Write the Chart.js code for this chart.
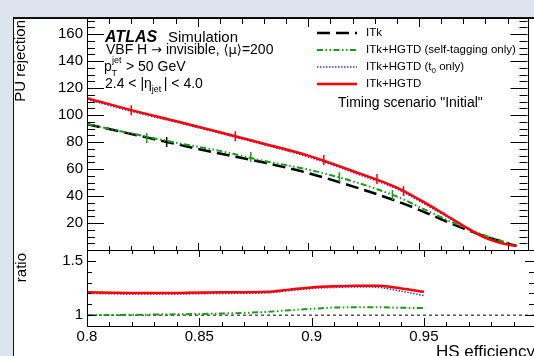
<!DOCTYPE html>
<html>
<head>
<meta charset="utf-8">
<script src="https://cdn.jsdelivr.net/npm/chart.js@4.4.1/dist/chart.umd.min.js"></script>
<style>
html, body { margin: 0; padding: 0; width: 534px; height: 356px; overflow: hidden; background: #dce4ef; }
#sheet { position: absolute; left: 13px; top: 17px; width: 530px; height: 350px; background: #fff; border-left: 1px solid #111; border-top: 2px solid #111; }
canvas { position: absolute; left: 0; top: 0; }
</style>
</head>
<body>
<div id="sheet"></div>
<canvas id="main" width="534" height="356"></canvas>
<canvas id="ratio" width="534" height="356"></canvas>
<script>
/* PU rejection vs HS efficiency, with ratio panel (Chart.js) */
const FONT = '"Liberation Sans", Arial, Helvetica, sans-serif';
const SYM = '"DejaVu Sans", sans-serif';

// main panel curves
const effX    = [0.80, 0.82, 0.84, 0.86, 0.88, 0.90, 0.92, 0.94, 0.95, 0.96, 0.97, 0.98, 0.99, 0.994];
const itkRej  = [93.3, 86.0, 78.6, 71.5, 64.8, 57.0, 47.2, 36.2, 29.8, 22.8, 16.0, 10.0, 5.0, 3.0];
const selfRej = [93.3, 86.4, 79.6, 73.5, 66.0, 59.6, 51.0, 39.6, 32.0, 24.3, 17.0, 10.6, 5.2, 3.0];
const t0Rej   = [111.6, 102.8, 94.8, 86.6, 78.0, 69.0, 57.6, 45.2, 36.4, 27.0, 17.6, 8.8, 4.0, 3.0];
const fullRej = [112.6, 103.7, 95.6, 87.3, 78.8, 70.0, 58.6, 46.2, 37.5, 28.0, 18.0, 9.0, 4.0, 3.0];

// working points with error bars
const itkMarkX  = [0.836];
const itkMarkY  = [80.0];
const selfMarkX = [0.827, 0.874, 0.914, 0.938];
const selfMarkY = [83.0, 69.0, 54.0, 40.7];
const fullMarkX = [0.82, 0.867, 0.907, 0.931, 0.943];
const fullMarkY = [103.7, 84.4, 66.7, 52.6, 43.7];

// ratio panel
const ratioX    = [0.80, 0.82, 0.84, 0.86, 0.88, 0.89, 0.90, 0.91, 0.92, 0.93, 0.94, 0.95];
const ratioFull = [1.21, 1.205, 1.205, 1.21, 1.215, 1.235, 1.255, 1.265, 1.27, 1.27, 1.245, 1.215];
const ratioT0   = [1.20, 1.195, 1.195, 1.20, 1.205, 1.225, 1.245, 1.255, 1.26, 1.255, 1.22, 1.18];
const ratioSelf = [1.0, 1.003, 1.008, 1.015, 1.03, 1.045, 1.058, 1.07, 1.072, 1.072, 1.068, 1.065];
const unityX    = [0.8, 0.999];
const unityY    = [1, 1];

// ticks
const xTickVals    = [0.8, 0.85, 0.9, 0.95];
const xTickLabels  = ['0.8', '0.85', '0.9', '0.95'];
const yMainLabels  = [20, 40, 60, 80, 100, 120, 140, 160];
const yRatioLabels = [1, 1.5];

const xMinor = [];
for (let k = 80; k <= 99; k++) xMinor.push(k / 100);
const yMainTicks = [];
for (let v = 0; v <= 170; v += 5) yMainTicks.push(v);
const yRatioTicks = [];
for (let k = 9; k <= 16; k++) yRatioTicks.push(k / 10);

const near = (v, list) => list.some(t => Math.abs(t - v) < 1e-6);

const STY = {
    itk:  { color: '#000000', width: 2.5, dash: [13, 6] },
    self: { color: '#12a012', width: 2,   dash: [6, 2.5, 1.5, 2.5, 1.5, 2.5] },
    t0:   { color: '#3030ff', width: 1.5, dash: [1.5, 1.5] },
    full: { color: '#ff0000', width: 2.5, dash: [] },
};

const pts = (xs, ys) => xs.map((x, i) => ({ x, y: ys[i] }));

function lineSet(xs, ys, sty) {
    return {
        data: pts(xs, ys),
        borderColor: sty.color,
        borderWidth: sty.width,
        borderDash: sty.dash,
        pointRadius: 0,
        fill: false,
        cubicInterpolationMode: 'monotone',
    };
}

function markSet(xs, ys, sty) {
    return {
        data: pts(xs, ys),
        showLine: false,
        pointStyle: 'line',
        rotation: 90,
        pointRadius: 5,
        borderColor: sty.color,
        pointBorderColor: sty.color,
        pointBorderWidth: 1.5,
    };
}

// ROOT style frame with inward ticks
const frameTicks = {
    id: 'frameTicks',
    afterDatasetsDraw(chart, args, o) {
        const { ctx, chartArea: a } = chart;
        const xs = chart.scales.x, ys = chart.scales.y;
        ctx.save();
        ctx.strokeStyle = '#000';
        ctx.lineWidth = 1;
        ctx.setLineDash([]);
        ctx.beginPath();
        xMinor.forEach(v => {
            const px = Math.round(xs.getPixelForValue(v)) + 0.5;
            const big = near(v, xTickVals);
            const lt = big ? o.xTop[0] : o.xTop[1];
            const lb = big ? o.xBottom[0] : o.xBottom[1];
            ctx.moveTo(px, a.top); ctx.lineTo(px, a.top + lt);
            ctx.moveTo(px, a.bottom); ctx.lineTo(px, a.bottom - lb);
        });
        o.yTicks.forEach(v => {
            const py = Math.round(ys.getPixelForValue(v)) + 0.5;
            const l = near(v, o.yMajor) ? o.yLen[0] : o.yLen[1];
            ctx.moveTo(a.left, py); ctx.lineTo(a.left + l, py);
            ctx.moveTo(a.right, py); ctx.lineTo(a.right - l, py);
        });
        ctx.stroke();
        ctx.strokeRect(Math.round(a.left) + 0.5, Math.round(a.top) + 0.5,
            Math.round(a.right - a.left), Math.round(a.bottom - a.top));
        ctx.restore();
    }
};

function sample(ctx, x0, x1, y, sty) {
    ctx.strokeStyle = sty.color;
    ctx.lineWidth = sty.width;
    ctx.setLineDash(sty.dash);
    ctx.beginPath();
    ctx.moveTo(x0, y); ctx.lineTo(x1, y);
    ctx.stroke();
}

// write a run of [text, font, dy] pieces left to right
function run(ctx, x, y, parts) {
    parts.forEach(([t, f, dy]) => {
        ctx.font = f;
        ctx.fillText(t, x, y + (dy || 0));
        x += ctx.measureText(t).width;
    });
    return x;
}

const legendRows = [
    [STY.itk, 'ITk'],
    [STY.self, 'ITk+HGTD (self-tagging only)'],
    [STY.t0, null],
    [STY.full, 'ITk+HGTD'],
];

const mainText = {
    id: 'mainText',
    afterDraw(chart) {
        const ctx = chart.ctx;
        ctx.save();
        ctx.fillStyle = '#000';
        ctx.textBaseline = 'alphabetic';
        ctx.font = `italic bold 16px ${FONT}`;
        ctx.fillText('ATLAS', 105, 41.5);
        ctx.font = `15px ${FONT}`;
        ctx.fillText('Simulation', 168, 41.5);

        const f14 = `14px ${FONT}`;
        run(ctx, 106, 54, [
            ['VBF H ', f14],
            ['\u2192', `13px ${SYM}`],
            [' invisible, ', f14],
            ['\u27E8\u03BC\u27E9', `13px ${SYM}`],
            ['=200', f14],
        ]);

        ctx.font = f14;
        ctx.fillText('p', 104, 71);
        ctx.font = `9px ${FONT}`;
        ctx.fillText('jet', 112, 63);
        ctx.fillText('T', 111.5, 76);
        ctx.font = f14;
        ctx.fillText('> 50 GeV', 126, 71);

        run(ctx, 105, 88, [
            ['2.4 < |\u03B7', f14],
            ['jet ', `9px ${FONT}`, 4],
            ['| < 4.0', f14],
        ]);

        // legend
        const rowY = [33, 50, 67, 84];
        const f12 = `11.5px ${FONT}`;
        ctx.textBaseline = 'middle';
        legendRows.forEach(([sty, label], i) => {
            sample(ctx, 317, 357, rowY[i], sty);
            ctx.fillStyle = '#000';
            if (label) {
                ctx.font = f12;
                ctx.fillText(label, 366, rowY[i]);
            } else {
                run(ctx, 366, rowY[i], [
                    ['ITk+HGTD (t', f12],
                    ['0', `8px ${FONT}`, 4],
                    [' only)', f12],
                ]);
            }
        });
        ctx.setLineDash([]);
        ctx.font = f14;
        ctx.fillText('Timing scenario "Initial"', 338, 103);

        // y title
        ctx.translate(21, 20);
        ctx.rotate(-Math.PI / 2);
        ctx.textAlign = 'right';
        ctx.font = `15px ${FONT}`;
        ctx.fillText('PU rejection', 0, 0);
        ctx.restore();
    }
};

const ratioText = {
    id: 'ratioText',
    afterDraw(chart) {
        const ctx = chart.ctx;
        ctx.save();
        ctx.fillStyle = '#000';
        ctx.font = `17px ${FONT}`;
        ctx.textBaseline = 'alphabetic';
        ctx.fillText('HS efficiency', 436, 357);
        ctx.translate(22, 253);
        ctx.rotate(-Math.PI / 2);
        ctx.textAlign = 'right';
        ctx.textBaseline = 'middle';
        ctx.font = `15px ${FONT}`;
        ctx.fillText('ratio', 0, 0);
        ctx.restore();
    }
};

const tickFont = { family: FONT, size: 15 };

function yAxis(min, max, tickList, labels) {
    return {
        type: 'linear', min, max,
        afterBuildTicks: s => { s.ticks = tickList.map(v => ({ value: v })); },
        afterFit: s => { s.width = 73; },
        grid: { display: false, drawTicks: false },
        border: { display: false },
        ticks: {
            autoSkip: false, padding: 4, color: '#000', font: tickFont,
            callback: v => near(v, labels) ? String(Math.round(v * 10) / 10) : '',
        },
    };
}

const common = {
    responsive: false,
    animation: false,
    devicePixelRatio: 1,
    events: [],
};

new Chart(document.getElementById('main'), {
    type: 'line',
    data: {
        datasets: [
            markSet(fullMarkX, fullMarkY, STY.full),
            lineSet(effX, fullRej, STY.full),
            lineSet(effX, t0Rej, STY.t0),
            markSet(selfMarkX, selfMarkY, STY.self),
            lineSet(effX, selfRej, STY.self),
            markSet(itkMarkX, itkMarkY, STY.itk),
            lineSet(effX, itkRej, STY.itk),
        ]
    },
    options: {
        ...common,
        layout: { padding: { left: 14, top: 18, right: 0, bottom: 106 } },
        scales: {
            x: { type: 'linear', min: 0.8, max: 0.999, display: false },
            y: yAxis(0, 172, yMainTicks, yMainLabels),
        },
        plugins: {
            legend: { display: false },
            tooltip: { enabled: false },
            frameTicks: { xTop: [9, 6], xBottom: [7, 4], yTicks: yMainTicks, yMajor: yMainLabels, yLen: [17, 8] },
        }
    },
    plugins: [frameTicks, mainText]
});

new Chart(document.getElementById('ratio'), {
    type: 'line',
    data: {
        datasets: [
            lineSet(ratioX, ratioFull, STY.full),
            lineSet(ratioX, ratioT0, STY.t0),
            lineSet(ratioX, ratioSelf, STY.self),
            { data: pts(unityX, unityY), borderColor: '#000', borderWidth: 1, borderDash: [3, 3], pointRadius: 0 },
        ]
    },
    options: {
        ...common,
        layout: { padding: { left: 14, top: 250, right: 0, bottom: 0 } },
        scales: {
            x: {
                type: 'linear', min: 0.8, max: 0.999,
                afterBuildTicks: s => { s.ticks = xMinor.map(v => ({ value: v })); },
                afterFit: s => { s.height = 30; },
                grid: { display: false, drawTicks: false },
                border: { display: false },
                ticks: {
                    autoSkip: false, maxRotation: 0, minRotation: 0, padding: 2, color: '#000', font: tickFont,
                    callback: v => {
                        const i = xTickVals.findIndex(t => Math.abs(t - v) < 1e-6);
                        return i >= 0 ? xTickLabels[i] : '';
                    },
                },
            },
            y: yAxis(0.9, 1.6, yRatioTicks, yRatioLabels),
        },
        plugins: {
            legend: { display: false },
            tooltip: { enabled: false },
            frameTicks: { xTop: [7, 4], xBottom: [8, 4], yTicks: yRatioTicks, yMajor: yRatioLabels, yLen: [9, 5] },
        }
    },
    plugins: [frameTicks, ratioText]
});
</script>
</body>
</html>
